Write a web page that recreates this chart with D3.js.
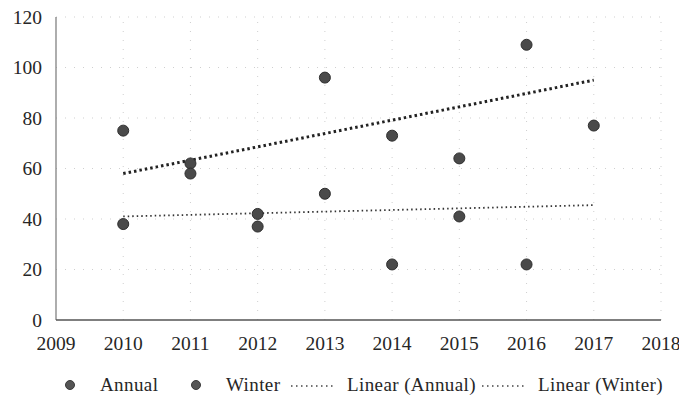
<!DOCTYPE html>
<html lang="en">
<head>
<meta charset="utf-8">
<title>Annual and Winter</title>
<script src="https://d3js.org/d3.v7.min.js"></script>
<style>
  body { margin: 0; background: #fff; }
  text { font-family: "Liberation Serif", "DejaVu Serif", serif; fill: #262626; }
</style>
</head>
<body>
<script>
  // ---- data ----
  const years = [2010, 2011, 2012, 2013, 2014, 2015, 2016, 2017];
  const annual = [75, 62, 42, 96, 73, 64, 109, 77];
  const winter = [38, 58, 37, 50, 22, 41, 22, null];
  // trend lines as drawn (start 2010, end 2017)
  const trendYears = [2010, 2017];
  const trendAnnual = [58, 95];
  const trendWinter = [41, 45.5];
  const xTicks = d3.range(2009, 2019);
  const yTicks = [0, 20, 40, 60, 80, 100, 120];

  const width = 679, height = 400;
  const margin = { left: 56, right: 18, top: 17, bottom: 80 };

  const svg = d3.select("body").append("svg")
    .attr("width", width)
    .attr("height", height);

  const x = d3.scaleLinear().domain([2009, 2018]).range([margin.left, width - margin.right]);
  const y = d3.scaleLinear().domain([0, 120]).range([height - margin.bottom, margin.top]);

  // faint dotted grid
  const grid = svg.append("g").attr("stroke", "#cfcfcf").attr("stroke-width", 1)
    .attr("stroke-dasharray", "1,8");
  grid.selectAll(".gy").data(yTicks.filter(d => d > 0)).join("line")
    .attr("x1", x(2009)).attr("x2", x(2018))
    .attr("y1", d => y(d)).attr("y2", d => y(d));
  grid.selectAll(".gx").data(xTicks.filter(d => d > 2009)).join("line")
    .attr("x1", d => x(d)).attr("x2", d => x(d))
    .attr("y1", y(0)).attr("y2", y(120));

  // axes
  svg.append("line")
    .attr("x1", x(2009)).attr("x2", x(2009))
    .attr("y1", y(120)).attr("y2", y(0))
    .attr("stroke", "#777").attr("stroke-width", 1.2);
  svg.append("line")
    .attr("x1", x(2009)).attr("x2", x(2018))
    .attr("y1", y(0)).attr("y2", y(0))
    .attr("stroke", "#555").attr("stroke-width", 1.6);

  svg.append("g").selectAll("text").data(yTicks).join("text")
    .attr("x", x(2009) - 14)
    .attr("y", d => y(d) + 6.5)
    .attr("text-anchor", "end")
    .attr("font-size", 19.5)
    .text(d => d);

  svg.append("g").selectAll("text").data(xTicks).join("text")
    .attr("x", d => x(d))
    .attr("y", y(0) + 30)
    .attr("text-anchor", "middle")
    .attr("font-size", 19.5)
    .text(d => d);

  // trend lines
  const line = d3.line().x(d => x(d[0])).y(d => y(d[1]));
  svg.append("path")
    .datum(trendYears.map((yr, i) => [yr, trendAnnual[i]]))
    .attr("d", line)
    .attr("fill", "none").attr("stroke", "#222")
    .attr("stroke-width", 3).attr("stroke-dasharray", "2.5,3");
  svg.append("path")
    .datum(trendYears.map((yr, i) => [yr, trendWinter[i]]))
    .attr("d", line)
    .attr("fill", "none").attr("stroke", "#333")
    .attr("stroke-width", 1.8).attr("stroke-dasharray", "1.5,3");

  // points
  const pts = [];
  years.forEach((yr, i) => {
    if (annual[i] != null) pts.push([yr, annual[i]]);
    if (winter[i] != null) pts.push([yr, winter[i]]);
  });
  svg.append("g").selectAll("circle").data(pts).join("circle")
    .attr("cx", d => x(d[0]))
    .attr("cy", d => y(d[1]))
    .attr("r", 5.5)
    .attr("fill", "#4a4a4a")
    .attr("stroke", "#2e2e2e")
    .attr("stroke-width", 1);

  // legend
  const ly = 385;
  const legend = svg.append("g").attr("font-size", 19);
  [[70, "Annual"], [196, "Winter"]].forEach(([lx, label]) => {
    legend.append("circle").attr("cx", lx).attr("cy", ly).attr("r", 4.5)
      .attr("fill", "#555").attr("stroke", "#3a3a3a");
    legend.append("text").attr("x", lx + 30).attr("y", ly + 6)
      .attr("letter-spacing", 0.4).text(label);
  });
  [[291, "Linear (Annual)"], [482, "Linear (Winter)"]].forEach(([lx, label]) => {
    legend.append("line").attr("x1", lx).attr("x2", lx + 44)
      .attr("y1", ly + 1).attr("y2", ly + 1)
      .attr("stroke", "#444").attr("stroke-width", 1.5)
      .attr("stroke-dasharray", "1.5,3.5");
    legend.append("text").attr("x", lx + 56).attr("y", ly + 6)
      .attr("letter-spacing", 0.4).text(label);
  });
</script>
</body>
</html>
